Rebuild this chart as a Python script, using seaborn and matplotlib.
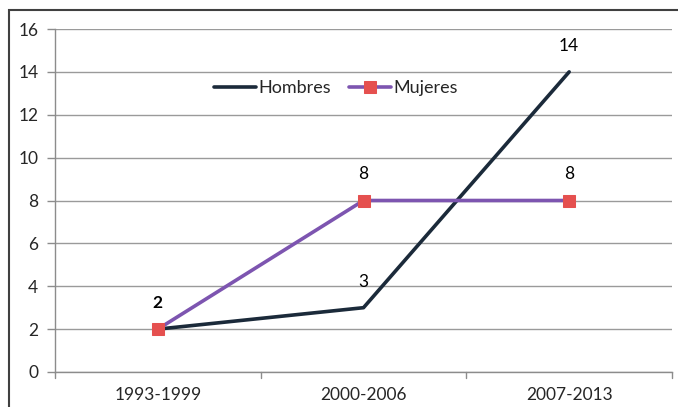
import matplotlib
matplotlib.use("Agg")
import matplotlib.pyplot as plt
import seaborn as sns
import pandas as pd
from matplotlib.patches import Rectangle

# Periods and counts per group
periods = ["1993-1999", "2000-2006", "2007-2013"]
hombres = [2, 3, 14]
mujeres = [2, 8, 8]
y_ticks = [0, 2, 4, 6, 8, 10, 12, 14, 16]

sns.set_theme(style="white")
plt.rcParams["font.family"] = ["Lato", "DejaVu Sans"]

df = pd.DataFrame({
    "periodo": list(range(len(periods))) * 2,
    "valor": hombres + mujeres,
    "grupo": ["Hombres"] * len(periods) + ["Mujeres"] * len(periods),
})

fig = plt.figure(figsize=(6.78, 4.07), dpi=100)
ax = fig.add_axes([55 / 678, 1 - 372 / 407, (672 - 55) / 678, (372 - 29) / 407])

c_h = "#1b2a3a"
c_m = "#7d55b0"
c_mk = "#e5504f"

sns.lineplot(data=df[df.grupo == "Hombres"], x="periodo", y="valor", ax=ax,
             color=c_h, lw=2.6, label="Hombres", zorder=3)
sns.lineplot(data=df[df.grupo == "Mujeres"], x="periodo", y="valor", ax=ax,
             color=c_m, lw=2.6, marker="s", markersize=8.5,
             markerfacecolor=c_mk, markeredgecolor=c_mk, label="Mujeres", zorder=4)

ax.set_xlim(-0.5, len(periods) - 0.5)
ax.set_ylim(0, 16)
ax.set_yticks(y_ticks)
ax.set_yticklabels([str(t) for t in y_ticks], fontsize=12.5)
ax.set_xticks(range(len(periods)))
ax.set_xticklabels(periods, fontsize=12.5)
ax.tick_params(axis="x", length=0, pad=11)
ax.tick_params(axis="y", length=6, width=1, color="#8c8c8c", pad=6, direction="out", left=True)
ax.set_xlabel("")
ax.set_ylabel("")

# category separators below the x axis
for b in [-0.5, 0.5, 1.5, 2.5]:
    ax.plot([b, b], [0, -0.28], color="#8c8c8c", lw=1, clip_on=False)

ax.yaxis.grid(True, color="#9a9a9a", lw=1)
ax.set_axisbelow(True)
for s in ["top", "right"]:
    ax.spines[s].set_visible(False)
for s in ["left", "bottom"]:
    ax.spines[s].set_color("#8c8c8c")
    ax.spines[s].set_linewidth(1)

# value labels; the shared first value is written in bold
for i, v in enumerate(hombres):
    bold = (v == mujeres[i])
    ax.annotate(str(v), (i, v), xytext=(0, 13), textcoords="offset points",
                ha="center", va="bottom", fontsize=12.5, color="black",
                fontweight="bold" if bold else "normal")
for i, v in enumerate(mujeres):
    if v == hombres[i]:
        continue
    ax.annotate(str(v), (i, v), xytext=(0, 13), textcoords="offset points",
                ha="center", va="bottom", fontsize=12.5, color="black")

leg = ax.legend(loc="center", bbox_to_anchor=(336 / 678, 1 - 88 / 407),
                bbox_transform=fig.transFigure, ncol=2, frameon=False,
                fontsize=13, handlelength=2.3, handletextpad=0.15, columnspacing=1.0)

# outer chart frame
fig.add_artist(Rectangle((9 / 678, -0.05), 1.2, 1 - 10 / 407 + 0.05,
                         transform=fig.transFigure, fill=False,
                         edgecolor="#404040", lw=1.5))

fig.savefig("out.png", dpi=100)
